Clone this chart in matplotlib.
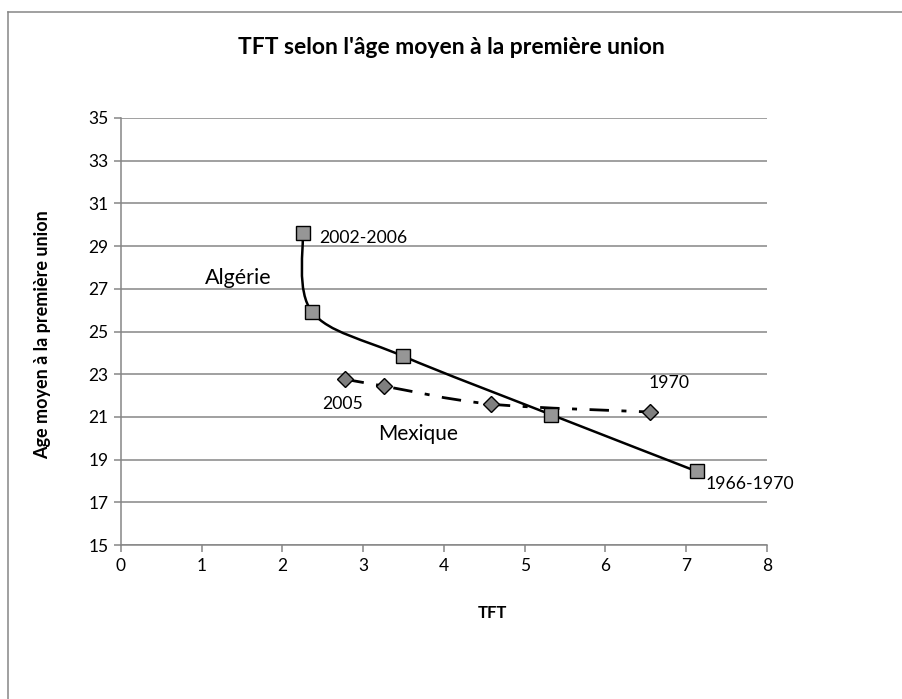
import matplotlib
matplotlib.use("Agg")
import matplotlib.pyplot as plt
from matplotlib.path import Path
from matplotlib.patches import PathPatch
from matplotlib.lines import Line2D

plt.rcParams['font.family'] = ['Lato', 'DejaVu Sans']

# TFT (x) and mean age at first union (y)
algerie_tft = [2.25, 2.37, 3.49, 5.33, 7.13]
algerie_age = [29.6, 25.9, 23.85, 21.1, 18.45]

mexique_tft = [2.77, 3.26, 4.58, 6.55]
mexique_age = [22.77, 22.44, 21.6, 21.23]

x_ticks = list(range(0, 9))
y_ticks = list(range(15, 36, 2))


def smooth_path(xs, ys):
    # Excel-style smoothed line: Catmull-Rom segments as cubic Beziers
    pts = list(zip(xs, ys))
    verts = [pts[0]]
    codes = [Path.MOVETO]
    n = len(pts)
    for i in range(n - 1):
        p0 = pts[i - 1] if i > 0 else pts[i]
        p1 = pts[i]
        p2 = pts[i + 1]
        p3 = pts[i + 2] if i + 2 < n else pts[i + 1]
        c1 = (p1[0] + (p2[0] - p0[0]) / 6, p1[1] + (p2[1] - p0[1]) / 6)
        c2 = (p2[0] - (p3[0] - p1[0]) / 6, p2[1] - (p3[1] - p1[1]) / 6)
        verts += [c1, c2, p2]
        codes += [Path.CURVE4] * 3
    return Path(verts, codes)


fig = plt.figure(figsize=(9.02, 6.99), dpi=100)
ax = fig.add_axes([0.1341, 0.2203, 0.7162, 0.6109])

grid_c = "#868686"
for y in y_ticks:
    ax.axhline(y, color=grid_c, lw=1.1, zorder=1)

ax.add_patch(PathPatch(smooth_path(algerie_tft, algerie_age), fill=False,
                       edgecolor="black", lw=1.8, zorder=3))
ax.plot(algerie_tft, algerie_age, ls="none", marker="s", ms=10,
        mfc="#969696", mec="black", mew=1.0, zorder=4)

ax.add_patch(PathPatch(smooth_path(mexique_tft, mexique_age), fill=False,
                       edgecolor="black", lw=2.0, zorder=3,
                       linestyle=(0, (7, 4.5, 1.8, 4.5))))
ax.plot(mexique_tft, mexique_age, ls="none", marker="D", ms=8,
        mfc="#7f7f7f", mec="black", mew=1.0, zorder=4)

ax.set_xlim(0, 8)
ax.set_ylim(15, 35)
ax.set_xticks(x_ticks)
ax.set_yticks(y_ticks)
ax.tick_params(axis="both", labelsize=12.5, color=grid_c, length=5,
               width=1.1, direction="out", pad=4)
for s in ["top", "right"]:
    ax.spines[s].set_visible(False)
for s in ["left", "bottom"]:
    ax.spines[s].set_color(grid_c)
    ax.spines[s].set_linewidth(1.1)

ax.text(2.46, 29.37, "2002-2006", fontsize=12.7, ha="left", va="center")
ax.text(1.45, 27.5, "Algérie", fontsize=15.5, ha="center", va="center")
ax.text(2.75, 21.6, "2005", fontsize=12.7, ha="center", va="center")
ax.text(3.68, 20.2, "Mexique", fontsize=15, ha="center", va="center")
ax.text(6.79, 22.6, "1970", fontsize=12.7, ha="center", va="center")
ax.text(7.24, 17.88, "1966-1970", fontsize=12.7, ha="left", va="center")

fig.text(0.5, 1 - 47 / 699, "TFT selon l'âge moyen à la première union",
         fontsize=16.5, fontweight="bold", ha="center", va="center")
fig.text(492 / 902, 1 - 613 / 699, "TFT", fontsize=12, fontweight="bold",
         ha="center", va="center")
fig.text(43 / 902, 1 - 335 / 699, "Age moyen à la première union",
         fontsize=13, fontweight="bold", rotation=90, ha="center",
         va="center")

# chart-area frame (only left and top edges visible)
fig.add_artist(Line2D([8 / 902, 8 / 902], [0, 1 - 12 / 699],
                      transform=fig.transFigure, color=grid_c, lw=1.1))
fig.add_artist(Line2D([8 / 902, 1], [1 - 12 / 699, 1 - 12 / 699],
                      transform=fig.transFigure, color=grid_c, lw=1.1))

fig.savefig("out.png", dpi=100)
